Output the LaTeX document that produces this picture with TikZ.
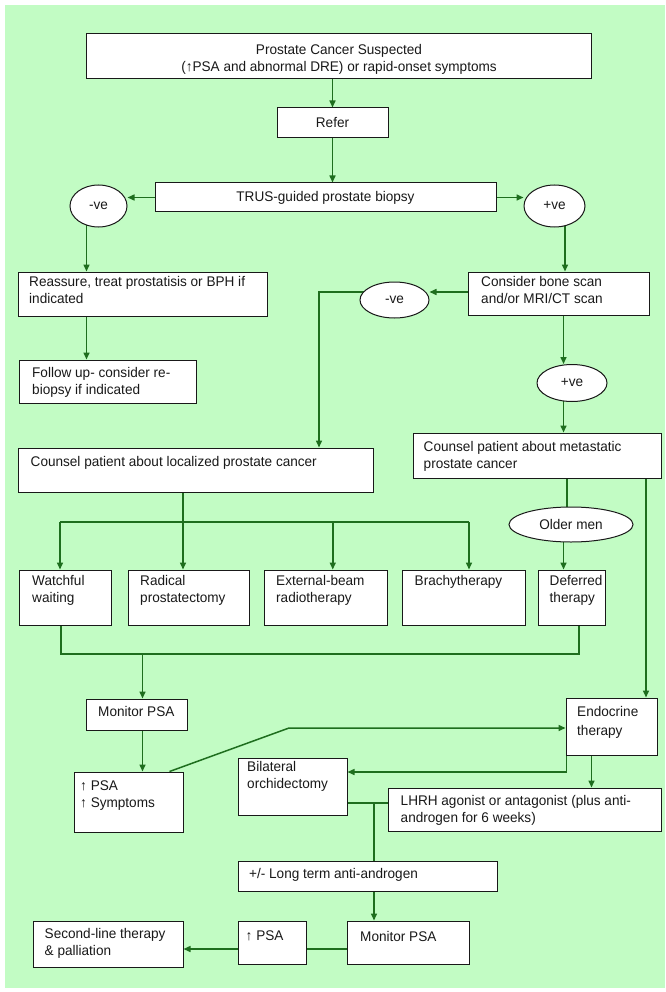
\documentclass[tikz,border=0pt]{standalone}
\usepackage{fontspec}
\setmainfont{Liberation Sans}[FakeStretch=0.97]
\usetikzlibrary{arrows.meta,shapes.geometric}
\pgfdeclarelayer{bgfill}
\pgfdeclarelayer{links}
\pgfsetlayers{bgfill,links,main}
\definecolor{paper}{RGB}{194,252,196}
\definecolor{link}{RGB}{30,110,30}
\definecolor{ink}{RGB}{25,25,25}
\newcommand\lbl{\fontsize{14}{17}\selectfont}
% box from its left, top, right and bottom edges
\newcommand\mkbox[5]{%
  \node[box, minimum width={(#4-#2)*1pt}, minimum height={(#5-#3)*1pt}]
    (#1) at ({(#2+#4)/2},{(#3+#5)/2}) {};}
\tikzset{
  box/.style={rectangle, draw=ink, fill=white, line width=1pt, inner sep=0pt},
  oval/.style={ellipse, draw=ink, fill=white, line width=1pt, inner sep=0pt, font=\lbl, text=ink},
  txt/.style={anchor=north west, inner sep=0pt, align=left, text=ink, font=\lbl},
  ctxt/.style={inner sep=0pt, align=center, text=ink, font=\lbl},
  arr/.style={draw=link, line width=1.5pt, -{Triangle[length=7pt,width=6pt]}},
  ln/.style={draw=link, line width=1.5pt},
}
\begin{document}
\begin{tikzpicture}[x=1pt,y=-1pt]
\useasboundingbox (0,0) rectangle (665,992);
\begin{pgfonlayer}{bgfill}
  \fill[white] (0,0) rectangle (665,992);
  \fill[paper] (5,5) rectangle (665,988);
\end{pgfonlayer}

% ---- boxes ----
\mkbox{top}{86.5}{34}{591.5}{79}
\node[ctxt] (top-t) at (339,59.5) {Prostate Cancer Suspected\\(↑PSA and abnormal DRE) or rapid-onset symptoms};
\mkbox{refer}{277}{108}{388}{138}
\node[ctxt] (refer-t) at (332.5,123) {Refer};
\mkbox{trus}{155}{183}{496}{212}
\node[ctxt] (trus-t) at (325.5,197.5) {TRUS-guided prostate biopsy};

\mkbox{reassure}{18}{272}{267}{316}
\node[txt] (reassure-t) at (29,276) {Reassure, treat prostatisis or BPH if\\indicated};
\mkbox{followup}{19}{360}{196}{403}
\node[txt] (followup-t) at (32,367) {Follow up- consider re-\\biopsy if indicated};
\mkbox{consider}{468}{272}{649}{315}
\node[txt] (consider-t) at (481,276) {Consider bone scan\\and/or MRI/CT scan};

\mkbox{localized}{18}{448}{373}{492}
\node[txt] (localized-t) at (30.5,456) {Counsel patient about localized prostate cancer};
\mkbox{metastatic}{413}{433}{661}{478}
\node[txt] (metastatic-t) at (423.5,441) {Counsel patient about metastatic\\prostate cancer};

\mkbox{watchful}{19}{570}{111}{625}
\node[txt] (watchful-t) at (32,575) {Watchful\\waiting};
\mkbox{radical}{128.5}{570}{249}{625}
\node[txt] (radical-t) at (140,575) {Radical\\prostatectomy};
\mkbox{external}{264.5}{570}{387}{625}
\node[txt] (external-t) at (276,575) {External-beam\\radiotherapy};
\mkbox{brachy}{402}{570}{525}{625}
\node[txt] (brachy-t) at (414.5,575) {Brachytherapy};
\mkbox{deferred}{538}{570}{605.5}{625}
\node[txt] (deferred-t) at (549.5,575) {Deferred\\therapy};

\mkbox{monitor}{86.5}{699}{187}{730}
\node[txt] (monitor-t) at (98,706) {Monitor PSA};
\mkbox{endocrine}{566}{698}{657}{755}
\node[txt] (endocrine-t) at (577,706) {Endocrine\\[2pt]therapy};
\mkbox{psaup}{74}{772}{183}{832}
\node[txt] (psaup-t) at (80,781) {↑ PSA\\↑ Symptoms};
\mkbox{bilateral}{238}{758}{347}{815}
\node[txt] (bilateral-t) at (247,761) {Bilateral\\orchidectomy};
\mkbox{lhrh}{388}{788}{661.5}{831}
\node[txt] (lhrh-t) at (400.5,795) {LHRH agonist or antagonist (plus anti-\\androgen for 6 weeks)};
\mkbox{longterm}{238}{861}{497}{891}
\node[txt] (longterm-t) at (249,868) {+/- Long term anti-androgen};
\mkbox{monitorb}{347}{921}{469}{964}
\node[txt] (monitorb-t) at (360,931) {Monitor PSA};
\mkbox{psab}{238}{921}{306.5}{964}
\node[txt] (psab-t) at (245.5,931) {↑ PSA};
\mkbox{second}{33}{921}{183}{967}
\node[txt] (second-t) at (44.5,928) {Second-line therapy\\\& palliation};

% ---- decision ovals ----
\node[oval, minimum width=57pt, minimum height=42pt] (neg1) at (98.5,206) {-ve};
\node[oval, minimum width=61pt, minimum height=42pt] (pos1) at (554.5,206) {+ve};
\node[oval, minimum width=69pt, minimum height=36pt] (neg2) at (394.5,300) {-ve};
\node[oval, minimum width=70pt, minimum height=37pt] (pos2) at (572,383) {+ve};
\node[oval, minimum width=124pt, minimum height=35pt] (older) at (571,524.5) {Older men};

% ---- connectors ----
\coordinate (busL) at (60,522);
\coordinate (busR) at (469,522);
\coordinate (merge) at (142.5,654);
\coordinate (bend) at (289,728);
\coordinate (jn) at ([yshift=6.5pt]lhrh.west);
\begin{pgfonlayer}{links}
  \draw[arr] (refer.north |- top.south) -- (refer.north);
  \draw[arr] (refer.south) -- (refer.south |- trus.north);
  \draw[arr] (trus.west) -- (trus.west -| neg1.east);
  \draw[arr] (trus.east) -- (trus.east -| pos1.west);
  \draw[arr] ([xshift=-12pt]neg1.center) -- ([xshift=-12pt]neg1.center |- reassure.north);
  \draw[arr] ([xshift=10.5pt]pos1.center) -- ([xshift=10.5pt]pos1.center |- consider.north);
  \draw[arr] ([xshift=-56pt]reassure.south) -- ([xshift=-56pt]reassure.south |- followup.north);
  \draw[arr] ([yshift=1.5pt]consider.west) -- ([yshift=1.5pt]consider.west -| neg2.east);
  \draw[arr] ([yshift=8pt]neg2.center) -| ([xshift=123.5pt]localized.north);
  \draw[arr] ([xshift=5pt]consider.south) -- ([xshift=5pt]consider.south |- pos2.north);
  \draw[arr] ([xshift=-8.5pt]pos2.center) -- ([xshift=-8.5pt]pos2.center |- metastatic.north);
  \draw[ln] ([xshift=30pt]metastatic.south) -- ([xshift=30pt]metastatic.south |- older.center);
  \draw[arr] ([xshift=-7.5pt]older.center) -- ([xshift=-7.5pt]older.center |- deferred.north);
  \draw[arr] ([xshift=109pt]metastatic.south) -- ([xshift=109pt]metastatic.south |- endocrine.north);
  \draw[arr] ([xshift=-12.5pt]localized.south) -- ([xshift=-12.5pt]localized.south |- radical.north);
  \draw[ln] (busL) -- (busR);
  \draw[arr] (busL) -- (busL |- watchful.north);
  \draw[arr] (busR) -- (busR |- brachy.north);
  \draw[arr] ([xshift=7pt]external.north |- busL) -- ([xshift=7pt]external.north);
  \draw[ln] ([xshift=-4pt]watchful.south) |- (merge) -| ([xshift=7pt]deferred.south);
  \draw[arr] (merge) -- (merge |- monitor.north);
  \draw[arr] (merge |- monitor.south) -- (merge |- psaup.north);
  \draw[arr] ([xshift=-14pt]psaup.north east) -- (bend) -- ([yshift=-1.5pt]endocrine.west);
  \draw[arr] ([xshift=1pt]endocrine.south west) |- ([yshift=14.5pt]bilateral.east);
  \draw[arr] ([xshift=-20pt]endocrine.south) -- ([xshift=-20pt]endocrine.south |- lhrh.north);
  \draw[ln] (jn) -- (jn -| bilateral.east);
  \draw[ln] ([xshift=6.5pt]longterm.north |- jn) -- ([xshift=6.5pt]longterm.north);
  \draw[arr] ([xshift=6.5pt]longterm.south) -- ([xshift=6.5pt]longterm.south |- monitorb.north);
  \draw[ln] ([yshift=-6.5pt]monitorb.west) -- ([yshift=-6.5pt]monitorb.west -| psab.east);
  \draw[arr] ([yshift=-6.5pt]psab.west) -- ([yshift=-6.5pt]psab.west -| second.east);
\end{pgfonlayer}
\end{tikzpicture}
\end{document}
